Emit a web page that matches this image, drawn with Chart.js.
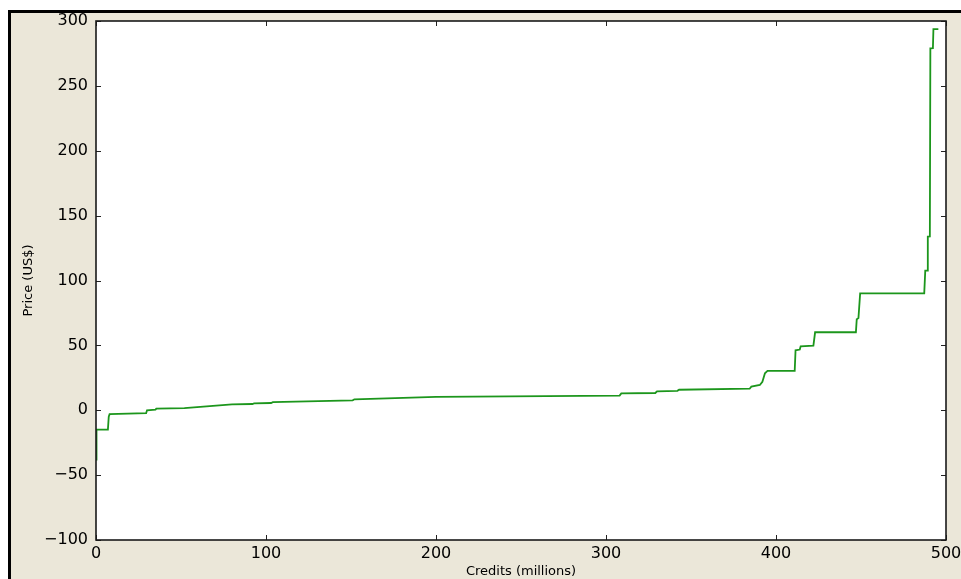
<!DOCTYPE html>
<html>
<head>
<meta charset="utf-8">
<script src="https://cdn.jsdelivr.net/npm/chart.js@4"></script>
<style>
  html, body { margin: 0; padding: 0; background: #ffffff; overflow: hidden; }
  #wrap { width: 961px; height: 579px; position: relative; }
  canvas { display: block; }
</style>
</head>
<body>
<div id="wrap"><canvas id="c" width="961" height="579" style="width:961px;height:579px"></canvas></div>
<script>
// Supply curve: cumulative credits (millions) against price (US$)
const credits = [
  0, 0.3, 7, 7.5, 8, 29.5, 30, 35, 35.5, 52, 80, 92, 93, 103, 104,
  151, 152, 200, 308, 309, 329, 330, 342, 343, 384.5, 385.5, 390.5, 392,
  393.5, 395, 411, 411.5, 414, 414.5, 422, 423, 447, 447.5, 448.5, 449.5,
  487.2, 487.8, 489, 489.3, 490.5, 490.8, 492.3, 492.6, 495.5
];
const prices = [
  -38, -15, -15, -5, -3, -2.3, 0, 0.5, 1.3, 1.6, 4.5, 4.8, 5.3, 5.6, 6.2,
  7.6, 8.4, 10.3, 11.3, 13, 13.3, 14.6, 15, 15.8, 16.6, 18.2, 19.5, 22,
  28.5, 30.3, 30.3, 46.2, 46.8, 49.3, 49.8, 60.1, 60.1, 70.1, 71, 90.1,
  90.1, 107.6, 107.6, 133.8, 134, 278.9, 279, 293.8, 293.8
];
const xTickValues = [0, 100, 200, 300, 400, 500];
const yTickValues = [-100, -50, 0, 50, 100, 150, 200, 250, 300];

const points = credits.map((c, i) => ({ x: c, y: prices[i] }));
const fmt = v => (v < 0 ? '\u2212' + Math.abs(v) : String(v));

Chart.defaults.font.family = "'DejaVu Sans', sans-serif";
Chart.defaults.color = '#000000';

// Figure background: beige panel with a heavy black edge, white plotting area
const backdrop = {
  id: 'backdrop',
  beforeDraw(chart) {
    const { ctx, chartArea: a, width, height } = chart;
    ctx.save();
    ctx.fillStyle = '#ffffff';
    ctx.fillRect(0, 0, width, height);
    ctx.fillStyle = '#ebe7d9';
    ctx.fillRect(8, 10, width - 8, height - 10);
    ctx.fillStyle = '#000000';
    ctx.fillRect(8, 10, width - 8, 3);
    ctx.fillRect(8, 10, 3, height - 10);
    ctx.fillStyle = '#ffffff';
    ctx.fillRect(a.left, a.top, a.right - a.left, a.bottom - a.top);
    ctx.restore();
  }
};

// Axes frame with inward tick marks on all four sides
const frame = {
  id: 'frame',
  afterDatasetsDraw(chart) {
    const { ctx, chartArea: a, scales } = chart;
    const len = 5;
    ctx.save();
    ctx.strokeStyle = '#222222';
    ctx.lineWidth = 1;
    ctx.beginPath();
    scales.x.ticks.forEach(t => {
      const px = Math.round(scales.x.getPixelForValue(t.value)) + 0.5;
      ctx.moveTo(px, a.bottom); ctx.lineTo(px, a.bottom - len);
      ctx.moveTo(px, a.top); ctx.lineTo(px, a.top + len);
    });
    scales.y.ticks.forEach(t => {
      const py = Math.round(scales.y.getPixelForValue(t.value)) + 0.5;
      ctx.moveTo(a.left, py); ctx.lineTo(a.left + len, py);
      ctx.moveTo(a.right, py); ctx.lineTo(a.right - len, py);
    });
    ctx.stroke();
    ctx.lineWidth = 1.6;
    ctx.strokeStyle = '#1a1a1a';
    ctx.strokeRect(a.left, a.top, a.right - a.left, a.bottom - a.top);
    ctx.restore();
  }
};

new Chart(document.getElementById('c'), {
  type: 'line',
  data: {
    datasets: [{
      data: points,
      borderColor: '#1c961c',
      borderWidth: 1.8,
      pointRadius: 0,
      fill: false,
      tension: 0
    }]
  },
  options: {
    responsive: false,
    animation: false,
    events: [],
    layout: { padding: { left: 0, top: 21, right: 15, bottom: 0 } },
    plugins: { legend: { display: false }, tooltip: { enabled: false } },
    scales: {
      x: {
        type: 'linear',
        min: 0, max: 500,
        afterBuildTicks: s => { s.ticks = xTickValues.map(v => ({ value: v })); },
        afterFit: s => { s.height = 39; s.paddingLeft = 0; s.paddingRight = 0; },
        grid: { display: false, drawTicks: false },
        border: { display: false },
        ticks: { padding: 4, maxRotation: 0, font: { size: 16 }, color: '#000', callback: v => fmt(v) },
        title: { display: true, text: 'Credits (millions)', font: { size: 13 }, color: '#000', padding: { top: 0, bottom: 0 } }
      },
      y: {
        type: 'linear',
        min: -100, max: 300,
        afterBuildTicks: s => { s.ticks = yTickValues.map(v => ({ value: v })); },
        afterFit: s => { s.width = 96; s.paddingTop = 0; s.paddingBottom = 0; },
        grid: { display: false, drawTicks: false },
        border: { display: false },
        ticks: { padding: 8, font: { size: 16 }, color: '#000', callback: v => fmt(v) },
        title: { display: true, text: 'Price (US$)', font: { size: 13 }, color: '#000', padding: { top: 21, bottom: 0 } }
      }
    }
  },
  plugins: [backdrop, frame]
});
</script>
</body>
</html>
